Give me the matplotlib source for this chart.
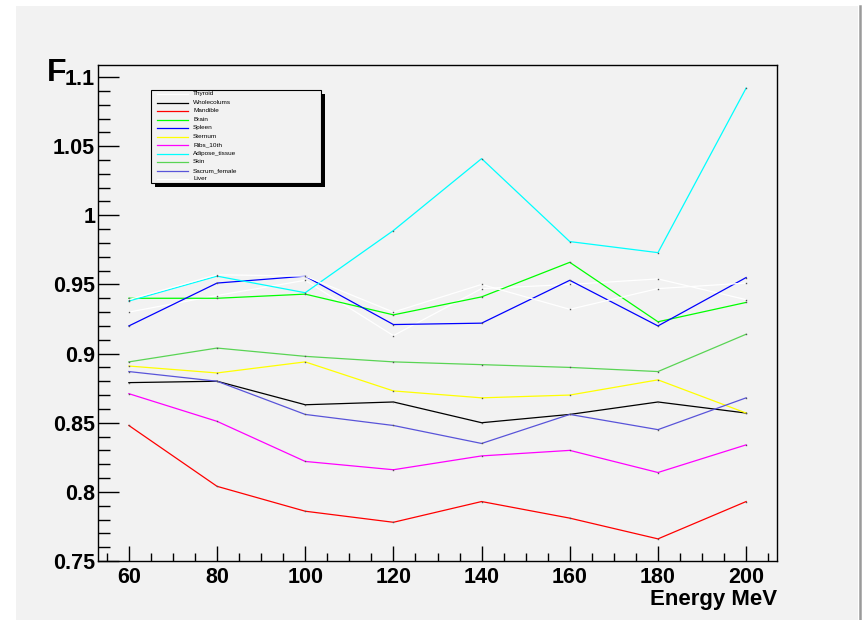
import matplotlib
matplotlib.use("Agg")
import matplotlib.pyplot as plt
from matplotlib.patches import Rectangle
from matplotlib.lines import Line2D
from matplotlib.ticker import MultipleLocator, FormatStrFormatter

# data
energy = [60, 80, 100, 120, 140, 160, 180, 200]

thyroid = [0.930, 0.942, 0.953, 0.913, 0.947, 0.950, 0.954, 0.939]
wholecolums = [0.879, 0.880, 0.863, 0.865, 0.850, 0.856, 0.865, 0.857]
mandible = [0.848, 0.804, 0.786, 0.778, 0.793, 0.781, 0.766, 0.793]
brain = [0.940, 0.940, 0.943, 0.928, 0.941, 0.966, 0.923, 0.937]
spleen = [0.920, 0.951, 0.956, 0.921, 0.922, 0.953, 0.920, 0.955]
sternum = [0.891, 0.886, 0.894, 0.873, 0.868, 0.870, 0.881, 0.857]
ribs_10th = [0.871, 0.851, 0.822, 0.816, 0.826, 0.830, 0.814, 0.834]
adipose = [0.938, 0.956, 0.944, 0.989, 1.041, 0.981, 0.973, 1.092]
skin = [0.894, 0.904, 0.898, 0.894, 0.892, 0.890, 0.887, 0.914]
sacrum = [0.887, 0.880, 0.856, 0.848, 0.835, 0.856, 0.845, 0.868]
liver = [0.939, 0.957, 0.956, 0.930, 0.950, 0.932, 0.947, 0.951]

names = ["Thyroid", "Wholecolums", "Mandible", "Brain", "Spleen", "Sternum",
         "Ribs_10th", "Adipose_tissue", "Skin", "Sacrum_female", "Liver"]
series = [thyroid, wholecolums, mandible, brain, spleen, sternum,
          ribs_10th, adipose, skin, sacrum, liver]
colors = ["#ffffff", "#000000", "#ff0000", "#00ff00", "#0000ff", "#ffff00",
          "#ff00ff", "#00ffff", "#59d454", "#5954d9", "#ffffff"]

W, H = 864, 620
BG = "#f2f2f2"


def fx(px):
    return px / W


def fy(py):
    return 1 - py / H


fig = plt.figure(figsize=(W / 100, H / 100), dpi=100, facecolor="white")
plt.rcParams["font.family"] = ["Liberation Sans", "DejaVu Sans"]

# canvas (ROOT pad look)
fig.add_artist(Rectangle((fx(16), 0), fx(858) - fx(16), fy(6), transform=fig.transFigure,
                         facecolor=BG, edgecolor="none", zorder=-10))
fig.add_artist(Line2D([fx(860), fx(860)], [0, fy(6)], transform=fig.transFigure,
                      color="#9a9a9a", lw=1.8, zorder=-9))

ax = fig.add_axes([fx(98), fy(561), fx(777) - fx(98), fy(65) - fy(561)])
ax.set_facecolor(BG)

for name, vals, c in zip(names, series, colors):
    ax.plot(energy, vals, color=c, lw=0.9, marker="s", ms=1.0,
            mfc="#555555", mec="none", label=name)

ax.set_xlim(53, 207)
ax.set_ylim(0.75, 1.1087)

ax.xaxis.set_major_locator(MultipleLocator(20))
ax.xaxis.set_minor_locator(MultipleLocator(5))
ax.yaxis.set_major_locator(MultipleLocator(0.05))
ax.yaxis.set_minor_locator(MultipleLocator(0.01))
ax.yaxis.set_major_formatter(FormatStrFormatter("%g"))

ax.tick_params(axis="y", which="major", direction="in", length=15, width=1, pad=2,
               labelsize=15.5)
ax.tick_params(axis="y", which="minor", direction="in", length=8.4, width=1)
ax.tick_params(axis="x", which="major", direction="in", length=10.8, width=1, pad=4,
               labelsize=15.5)
ax.tick_params(axis="x", which="minor", direction="in", length=5.5, width=1)
for lab in ax.get_xticklabels() + ax.get_yticklabels():
    lab.set_fontweight("bold")

for sp in ax.spines.values():
    sp.set_linewidth(1.0)
    sp.set_color("black")

ax.set_xlabel("Energy MeV", loc="right", fontsize=16, fontweight="bold", labelpad=1)
ax.set_ylabel("F", rotation=0, fontsize=23, fontweight="bold", ha="left", va="baseline")
ax.yaxis.set_label_coords(-0.075, 0.968)

# legend box, drawn by hand like ROOT's TLegend
fig.add_artist(Rectangle((fx(155), fy(187)), fx(325) - fx(155), fy(94) - fy(187),
                         transform=fig.transFigure, facecolor="black",
                         edgecolor="none", zorder=5))
fig.add_artist(Rectangle((fx(151), fy(183)), fx(321) - fx(151), fy(90) - fy(183),
                         transform=fig.transFigure, facecolor=BG,
                         edgecolor="black", lw=0.8, zorder=6))
for i, (name, c) in enumerate(zip(names, colors)):
    yy = 94 + i * 8.5
    fig.add_artist(Line2D([fx(157), fx(188)], [fy(yy), fy(yy)], transform=fig.transFigure,
                          color=c, lw=0.9, zorder=7))
    fig.text(fx(193), fy(yy), name, fontsize=4.6, va="center", ha="left", zorder=7)

fig.savefig("out.png", dpi=100, facecolor="white")
